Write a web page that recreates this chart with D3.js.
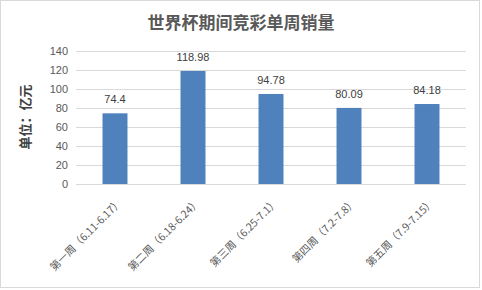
<!DOCTYPE html>
<html><head><meta charset="utf-8">
<script src="https://cdn.jsdelivr.net/npm/d3@7"></script>
<style>html,body{margin:0;padding:0;background:#fff;}</style>
</head><body>
<svg id="c" width="482" height="290"></svg>
<script>
const categories = ["第一周（6.11-6.17）","第二周（6.18-6.24）","第三周（6.25-7.1）","第四周（7.2-7.8）","第五周（7.9-7.15）"];
const values = [74.4, 118.98, 94.78, 80.09, 84.18];
const yTicks = [0,20,40,60,80,100,120,140];
const title = "世界杯期间竞彩单周销量";
const yTitle = "单位：亿元";

const svg = d3.select("#c");
svg.append("rect").attr("x",0.5).attr("y",0.5).attr("width",479).attr("height",287)
  .attr("fill","#fff").attr("stroke","#d9d9d9");

const m = {left:76, right:466, top:51, bottom:184};
const x = d3.scaleBand().domain(categories).range([m.left,m.right]).paddingInner(0.68).paddingOuter(0.34);
const y = d3.scaleLinear().domain([0,140]).range([m.bottom,m.top]);

// gridlines
svg.append("g").selectAll("line").data(yTicks).join("line")
  .attr("x1",m.left).attr("x2",m.right)
  .attr("y1",d=>Math.round(y(d))+0.5).attr("y2",d=>Math.round(y(d))+0.5)
  .attr("stroke","#d9d9d9").attr("stroke-width",1);

// y axis labels
const ya = svg.append("g").attr("transform",`translate(${m.left},0)`)
  .call(d3.axisLeft(y).tickValues(yTicks).tickSize(0).tickPadding(8));
ya.select(".domain").remove();
ya.selectAll("text").attr("font-family","'Liberation Sans',Arial,sans-serif").attr("font-size",11).attr("fill","#595959");

// bars
svg.append("g").selectAll("rect").data(values).join("rect")
  .attr("x",(d,i)=>x(categories[i])).attr("width",x.bandwidth())
  .attr("y",d=>y(d)).attr("height",d=>y(0)-y(d)).attr("fill","#4f81bd");

// data labels
svg.append("g").selectAll("text").data(values).join("text")
  .attr("x",(d,i)=>x(categories[i])+x.bandwidth()/2).attr("y",d=>y(d)-10)
  .attr("text-anchor","middle").attr("font-family","'Liberation Sans',Arial,sans-serif")
  .attr("font-size",11).attr("fill","#404040").text(d=>d);

// x axis labels
const xa = svg.append("g").attr("transform",`translate(0,${m.bottom})`)
  .call(d3.axisBottom(x).tickSize(0).tickPadding(0));
xa.select(".domain").remove();
xa.selectAll("text").attr("font-family","'Noto Sans CJK SC',sans-serif").attr("font-size",10.5)
  .attr("fill","#595959").attr("text-anchor","end").attr("dy",null).attr("y",0)
  .attr("transform","translate(8,19) rotate(-45)");

// title
svg.append("text").attr("x",241).attr("y",29).attr("text-anchor","middle")
  .attr("font-family","'Noto Sans CJK SC',sans-serif").attr("font-weight","bold")
  .attr("font-size",17).attr("fill","#595959").text(title);

// y title
svg.append("text").attr("transform","translate(30,117) rotate(-90)").attr("text-anchor","middle")
  .attr("font-family","'Noto Sans CJK SC',sans-serif").attr("font-weight","bold")
  .attr("font-size",13).attr("fill","#404040").text(yTitle);
</script>
</body></html>
